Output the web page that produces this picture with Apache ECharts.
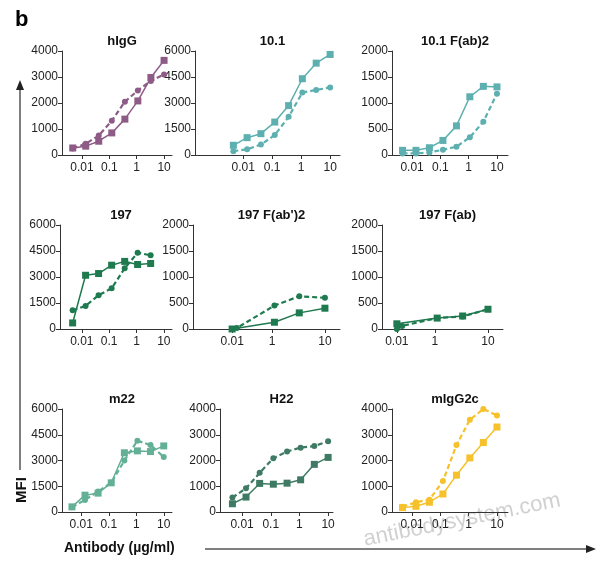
<!DOCTYPE html>
<html><head><meta charset="utf-8">
<script src="https://cdn.jsdelivr.net/npm/echarts@6/dist/echarts.min.js"></script>
<style>body{margin:0}#main{width:610px;height:572px}</style>
</head><body><div id="main"></div>
<script>
// concentrations (ug/ml), 3-fold dilutions
var conc = [0.0046, 0.0137, 0.041, 0.123, 0.37, 1.1, 3.3, 10];
var titles = ['hIgG', '10.1', '10.1 F(ab)2', '197', "197 F(ab')2", '197 F(ab)', 'm22', 'H22', 'mIgG2c'];
var colors = ['#8d5b86', '#5eb0b0', '#5eb0b0', '#1f7a4f', '#1f7a4f', '#1f7a4f', '#63b096', '#3f7b64', '#f6c12a'];
var yMax = [4000, 6000, 2000, 6000, 2000, 2000, 6000, 4000, 4000];
var hIgG_solid = [270, 340, 530, 850, 1380, 2080, 2980, 3640];
var hIgG_dash = [250, 430, 750, 1320, 2050, 2480, 2850, 3100];
var m101_solid = [560, 1000, 1230, 1900, 2850, 4400, 5300, 5800];
var m101_dash = [220, 330, 600, 1150, 2200, 3600, 3750, 3900];
var f101_solid = [90, 90, 140, 280, 560, 1120, 1320, 1310];
var f101_dash = [30, 30, 50, 100, 160, 340, 640, 1180];
var m197_solid = [350, 3100, 3200, 3680, 3900, 3720, 3780];
var m197_dash = [1080, 1330, 1950, 2350, 3500, 4400, 4250];
var m22_solid = [300, 980, 1100, 1700, 3450, 3560, 3520, 3850];
var m22_dash = [280, 700, 1200, 1700, 3000, 4150, 3900, 3200];
var h22_solid = [320, 580, 1110, 1080, 1120, 1250, 1850, 2120];
var h22_dash = [560, 920, 1520, 2090, 2350, 2500, 2560, 2750];
var g2c_solid = [170, 220, 380, 700, 1430, 2100, 2700, 3300];
var g2c_dash = [200, 380, 480, 1200, 2600, 3580, 4000, 3750];
// broken-axis panels: [position, MFI]
var f197ab2_solid = [[0, 0], [0.8, 130], [1.27, 310], [1.755, 400]];
var f197ab2_dash = [[0, 0], [0.09, 20], [0.8, 450], [1.27, 630], [1.755, 600]];
var f197ab_solid = [[0, 100], [0.76, 210], [1.24, 250], [1.717, 380]];
var f197ab_dash = [[0, 0], [0.1, 60], [0.76, 210], [1.24, 240], [1.717, 380]];

var lineData = [
	[hIgG_solid, hIgG_dash], [m101_solid, m101_dash], [f101_solid, f101_dash],
	[m197_solid, m197_dash], null, null,
	[m22_solid, m22_dash], [h22_solid, h22_dash], [g2c_solid, g2c_dash]
];
var brokeData = {4: [f197ab2_solid, f197ab2_dash, [0, 0.755, 1.755]], 5: [f197ab_solid, f197ab_dash, [0, 0.717, 1.717]]};

// layout per panel: axis left/right px, x-range min/max
var boxes = [
	[62, 172, -2.73, 1.29], [195, 340, -3.66, 1.34], [392, 508, -2.71, 1.39],
	[60, 172, -2.8, 1.3], [193, 340, -0.74, 2.04], [382, 503, -0.28, 2.0],
	[62, 172, -2.7, 1.3], [220, 333, -2.77, 1.17], [392, 508, -2.71, 1.39]
];
var rowTop = [51, 225, 409], rowBottom = [155, 329, 512], titleY = [38, 212, 396];

var grids = [], xAxes = [], yAxes = [], series = [], titleArr = [];
var font = 'Liberation Sans';
for (var i = 0; i < 9; i++) {
	var b = boxes[i], r = Math.floor(i / 3);
	grids.push({left: b[0], width: b[1] - b[0], top: rowTop[r], height: rowBottom[r] - rowTop[r]});
	var broke = brokeData[i];
	var ticks = broke ? broke[2] : [-2, -1, 0, 1];
	var lbls = broke ? ['0.01', '1', '10'] : ['0.01', '0.1', '1', '10'];
	xAxes.push({
		type: 'value', gridIndex: i, min: b[2], max: b[3],
		axisLine: {onZero: false, lineStyle: {color: '#333', width: 1}},
		axisTick: {customValues: ticks, length: 4, lineStyle: {color: '#333'}},
		axisLabel: {customValues: ticks, color: '#222', fontFamily: font, fontSize: 12, margin: 7,
			formatter: (function (t, l) { return function (v) { var k = t.indexOf(v); return k >= 0 ? l[k] : ''; }; })(ticks, lbls)},
		splitLine: {show: false}
	});
	yAxes.push({
		type: 'value', gridIndex: i, min: 0, max: yMax[i], interval: yMax[i] / 4,
		axisLine: {show: true, onZero: false, lineStyle: {color: '#333', width: 1}},
		axisTick: {show: true, length: 4, lineStyle: {color: '#333'}},
		axisLabel: {color: '#222', fontFamily: font, fontSize: 12, margin: 4, formatter: function (v) { return String(v); }},
		splitLine: {show: false}
	});
	titleArr.push({text: titles[i], left: (b[0] + b[1]) / 2, top: titleY[r] - 8, textAlign: 'center',
		textStyle: {fontFamily: font, fontSize: 13, fontWeight: 'bold', color: '#111'}});
	var sets;
	if (broke) {
		sets = [broke[0], broke[1]];
	} else {
		sets = lineData[i].map(function (arr) {
			return arr.map(function (v, k) { return [Math.log10(conc[k]), v]; });
		});
	}
	sets.forEach(function (d, s) {
		series.push({
			type: 'line', xAxisIndex: i, yAxisIndex: i, data: d,
			symbol: s === 0 ? 'rect' : 'circle', symbolSize: s === 0 ? 7 : 6,
			itemStyle: {color: colors[i]},
			lineStyle: {color: colors[i], width: s === 0 ? 1.5 : 2.2, type: s === 0 ? 'solid' : [5, 3]},
			animation: false, silent: true
		});
	});
}

var myChart = echarts.init(document.getElementById('main'));
myChart.setOption({
	backgroundColor: '#fff',
	title: titleArr.concat([{text: 'b', left: 10, top: 4, textStyle: {fontFamily: font, fontSize: 22, fontWeight: 'bold', color: '#000'}}]),
	grid: grids, xAxis: xAxes, yAxis: yAxes, series: series,
	graphic: [
		{type: 'line', shape: {x1: 20, y1: 470, x2: 20, y2: 88}, style: {stroke: '#555', lineWidth: 1.5}},
		{type: 'polygon', shape: {points: [[20, 80], [16, 90], [24, 90]]}, style: {fill: '#222'}},
		{type: 'line', shape: {x1: 205, y1: 549, x2: 588, y2: 549}, style: {stroke: '#555', lineWidth: 1.5}},
		{type: 'polygon', shape: {points: [[596, 549], [586, 545], [586, 553]]}, style: {fill: '#222'}},
		{type: 'text', x: 22, y: 490, rotation: Math.PI / 2, style: {text: 'MFI', font: 'bold 15px Liberation Sans', fill: '#111', align: 'center', verticalAlign: 'middle'}},
		{type: 'text', x: 64, y: 548, style: {text: 'Antibody (µg/ml)', font: 'bold 14px Liberation Sans', fill: '#111', verticalAlign: 'middle'}},
		{type: 'text', x: 462, y: 520, rotation: 0.2, style: {text: 'antibodysystem.com', font: '22px Liberation Sans', fill: 'rgba(150,150,150,0.45)', align: 'center', verticalAlign: 'middle'}}
	]
});
</script></body></html>
